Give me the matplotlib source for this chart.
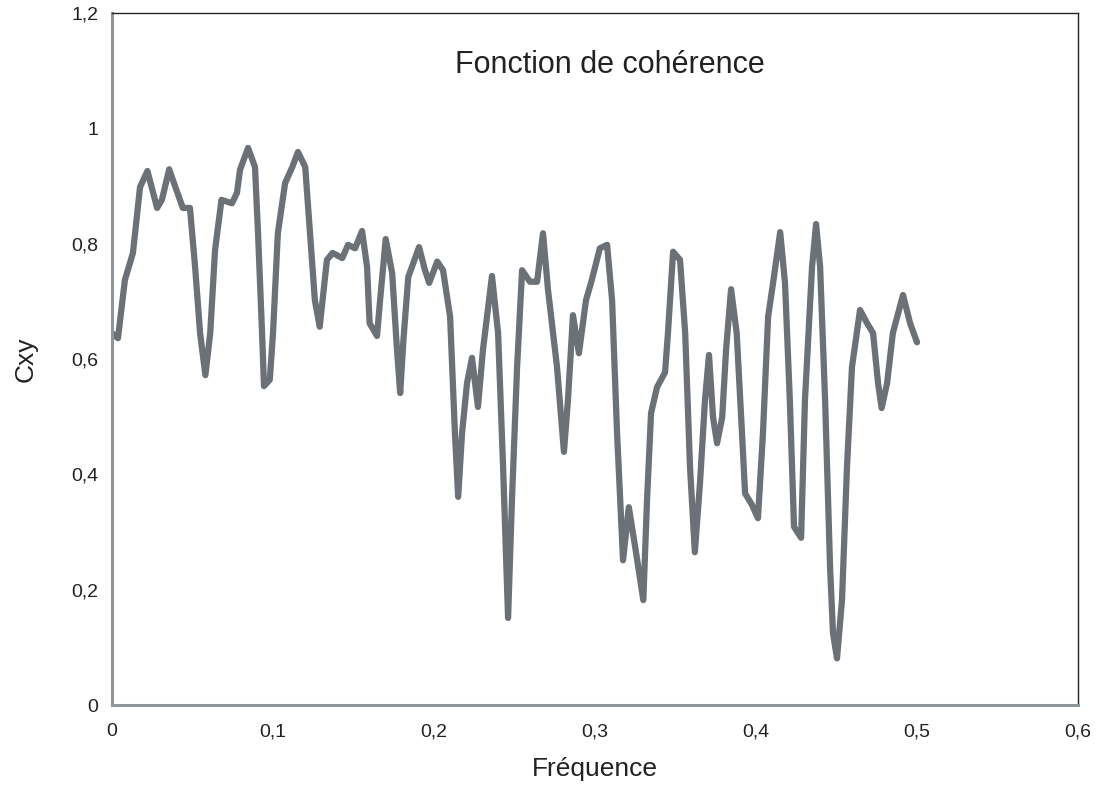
import matplotlib.pyplot as plt
from matplotlib.ticker import FuncFormatter

# -----------------------------
# Data
# -----------------------------

freq = [0.000, 0.0037, 0.008, 0.013, 0.0174, 0.022, 0.028, 0.031, 0.0355, 0.040,
        0.044, 0.0484, 0.0516, 0.0547, 0.058, 0.061, 0.064, 0.068, 0.0745, 0.0776,
        0.0795, 0.0845, 0.0888, 0.0907, 0.0932, 0.0944, 0.098, 0.100, 0.103, 0.1075,
        0.112, 0.1155, 0.120, 0.123, 0.126, 0.129, 0.1335, 0.137, 0.143, 0.1466,
        0.151, 0.1553, 0.1584, 0.160, 0.1646, 0.1665, 0.170, 0.174, 0.177, 0.179,
        0.181, 0.184, 0.1907, 0.1944, 0.197, 0.202, 0.2056, 0.210, 0.213, 0.215,
        0.2174, 0.2205, 0.2236, 0.2273, 0.2304, 0.236, 0.2398, 0.2429, 0.246, 0.2484,
        0.2516, 0.2547, 0.2596, 0.264, 0.2677, 0.2708, 0.2764, 0.2807, 0.2832, 0.2863,
        0.290, 0.2944, 0.298, 0.303, 0.3075, 0.3106, 0.3137, 0.3174, 0.321, 0.3255,
        0.330, 0.3323, 0.3348, 0.3385, 0.3435, 0.3453, 0.3485, 0.3528, 0.356, 0.359,
        0.362, 0.3652, 0.3683, 0.3708, 0.3733, 0.3758, 0.379, 0.3814, 0.3845, 0.388,
        0.3913, 0.3932, 0.3975, 0.4012, 0.4043, 0.4075, 0.4106, 0.415, 0.418, 0.421,
        0.4236, 0.428, 0.4304, 0.4348, 0.4373, 0.4398, 0.4429, 0.446, 0.4478, 0.4503,
        0.4534, 0.4565, 0.4596, 0.4646, 0.469, 0.4727, 0.4758, 0.478, 0.4814, 0.485,
        0.4913, 0.4957, 0.500]

cxy = [0.645, 0.636, 0.737, 0.784, 0.898, 0.926, 0.862, 0.876, 0.929, 0.893,
       0.862, 0.862, 0.760, 0.645, 0.572, 0.645, 0.789, 0.876, 0.870, 0.888,
       0.928, 0.966, 0.933, 0.818, 0.645, 0.553, 0.564, 0.645, 0.818, 0.905,
       0.933, 0.959, 0.933, 0.818, 0.702, 0.656, 0.772, 0.784, 0.775, 0.798,
       0.792, 0.822, 0.760, 0.662, 0.640, 0.702, 0.808, 0.749, 0.616, 0.541,
       0.633, 0.742, 0.794, 0.754, 0.732, 0.769, 0.754, 0.673, 0.471, 0.361,
       0.471, 0.558, 0.602, 0.517, 0.616, 0.744, 0.645, 0.413, 0.151, 0.355,
       0.586, 0.754, 0.734, 0.734, 0.818, 0.720, 0.586, 0.439, 0.529, 0.676,
       0.610, 0.702, 0.737, 0.792, 0.798, 0.702, 0.471, 0.251, 0.343, 0.264,
       0.182, 0.355, 0.506, 0.551, 0.577, 0.645, 0.786, 0.772, 0.645, 0.413,
       0.265, 0.385, 0.529, 0.607, 0.499, 0.454, 0.499, 0.616, 0.721, 0.645,
       0.471, 0.367, 0.347, 0.324, 0.471, 0.673, 0.732, 0.820, 0.732, 0.529,
       0.309, 0.290, 0.529, 0.760, 0.834, 0.760, 0.529, 0.239, 0.125, 0.081,
       0.182, 0.413, 0.586, 0.685, 0.662, 0.645, 0.558, 0.515, 0.558, 0.645,
       0.711, 0.662, 0.629]

x_ticks = [0, 0.1, 0.2, 0.3, 0.4, 0.5, 0.6]
y_ticks = [0, 0.2, 0.4, 0.6, 0.8, 1.0, 1.2]

# -----------------------------
# Figure
# -----------------------------

plt.rcParams["font.family"] = ["Liberation Sans", "DejaVu Sans"]

fig = plt.figure(figsize=(10.96, 7.92), dpi=100)
ax = fig.add_axes([0.1022, 0.1098, 0.8814, 0.8738])

ax.plot(freq, cxy, color="#6b7176", linewidth=4.5,
        solid_joinstyle="round", solid_capstyle="round")

ax.set_xlim(0, 0.6)
ax.set_ylim(0, 1.2)
ax.set_xticks(x_ticks)
ax.set_yticks(y_ticks)

comma = FuncFormatter(lambda v, p: ("%g" % round(v, 2)).replace(".", ","))
ax.xaxis.set_major_formatter(comma)
ax.yaxis.set_major_formatter(comma)

ax.tick_params(length=0, labelsize=14, colors="#222222", pad=13)
ax.tick_params(axis="y", pad=10)

for side in ["left", "bottom"]:
    ax.spines[side].set_color("#8e959b")
    ax.spines[side].set_linewidth(2.2)
for side in ["top", "right"]:
    ax.spines[side].set_color("#222222")
    ax.spines[side].set_linewidth(1.0)

ax.set_xlabel("Fréquence", fontsize=19, color="#222222", labelpad=12)
ax.set_ylabel("Cxy", fontsize=19, color="#222222", labelpad=24)

ax.text(0.515, 0.925, "Fonction de cohérence", transform=ax.transAxes,
        ha="center", va="center", fontsize=22, color="#222222")

plt.savefig("out.png", dpi=100)
